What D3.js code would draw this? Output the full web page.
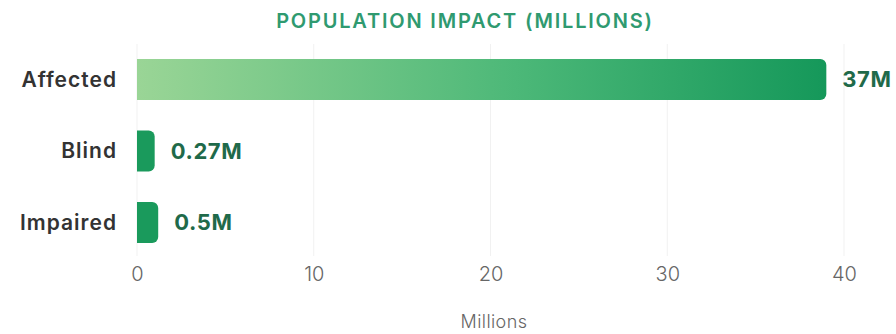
<!DOCTYPE html>
<html>
<head>
<meta charset="utf-8">
<script src="https://cdn.jsdelivr.net/npm/d3@7"></script>
<style>
  body { margin: 0; background: #fff; font-family: Inter, "Noto Sans", sans-serif; }
</style>
</head>
<body>
<div id="chart"></div>
<script>
// data
var categories = ["Affected", "Blind", "Impaired"];
var barValues = [39.0, 1.0, 1.2];          // drawn bar length (millions, as seen on the axis)
var valueLabels = ["37M", "0.27M", "0.5M"];
var xTicks = [0, 10, 20, 30, 40];

var W = 896, H = 334;
var margin = { top: 52, right: 52, bottom: 82, left: 137 };
var width = W - margin.left - margin.right,
    height = H - margin.top - margin.bottom;

var svg = d3.select("#chart").append("svg")
    .attr("width", W).attr("height", H);

var defs = svg.append("defs");
var grad = defs.append("linearGradient").attr("id", "gradAffected")
    .attr("x1", "0%").attr("x2", "100%").attr("y1", "0%").attr("y2", "0%");
grad.append("stop").attr("offset", "0%").attr("stop-color", "#9ad596");
grad.append("stop").attr("offset", "55%").attr("stop-color", "#4cb878");
grad.append("stop").attr("offset", "100%").attr("stop-color", "#15985a");

var g = svg.append("g")
    .attr("transform", "translate(" + margin.left + "," + margin.top + ")");

var x = d3.scaleLinear().domain([0, 40]).range([0, 707]);
var y = d3.scaleBand().domain(categories).range([7, 191]).paddingInner(0.427).paddingOuter(0);

// title
svg.append("text")
    .attr("x", 465).attr("y", 28)
    .attr("text-anchor", "middle")
    .style("font-size", "20px").style("font-weight", "600")
    .style("letter-spacing", "1.8px")
    .style("fill", "#2f9a70")
    .text("POPULATION IMPACT (MILLIONS)");

// gridlines
g.append("g")
    .selectAll("line").data(xTicks).enter().append("line")
    .attr("x1", function (d) { return x(d); }).attr("x2", function (d) { return x(d); })
    .attr("y1", -8).attr("y2", height + 4)
    .attr("stroke", "#f1f1f1").attr("stroke-width", 1);

// bars with rounded right end
function barPath(w, h, r) {
    r = Math.min(r, w / 2, h / 2);
    return "M0,0H" + (w - r) + "A" + r + "," + r + " 0 0 1 " + w + "," + r +
        "V" + (h - r) + "A" + r + "," + r + " 0 0 1 " + (w - r) + "," + h + "H0Z";
}

var rows = g.selectAll(".row").data(categories).enter().append("g")
    .attr("transform", function (d) { return "translate(0," + y(d) + ")"; });

rows.append("path")
    .attr("d", function (d, i) { return barPath(x(barValues[i]), y.bandwidth(), 6); })
    .attr("fill", function (d, i) { return i === 0 ? "url(#gradAffected)" : "#1a9a5c"; });

rows.append("text")
    .attr("x", -20).attr("y", y.bandwidth() / 2)
    .attr("dy", "0.35em").attr("text-anchor", "end")
    .style("font-size", "21px").style("font-weight", "600").style("fill", "#333")
    .style("letter-spacing", "1px")
    .text(function (d) { return d; });

rows.append("text")
    .attr("x", function (d, i) { return x(barValues[i]) + 16; })
    .attr("y", y.bandwidth() / 2)
    .attr("dy", "0.35em")
    .style("font-size", "22px").style("font-weight", "700").style("fill", "#1f6a4a")
    .style("letter-spacing", "0.6px")
    .text(function (d, i) { return valueLabels[i]; });

// x axis
var axis = g.append("g")
    .attr("transform", "translate(0," + height + ")")
    .call(d3.axisBottom(x).tickValues(xTicks).tickSize(0).tickPadding(15));
axis.select(".domain").remove();
axis.selectAll("text")
    .style("font-family", "Inter, sans-serif")
    .style("font-size", "20px").style("font-weight", "300").style("fill", "#666");

svg.append("text")
    .attr("x", 494).attr("y", 328)
    .attr("text-anchor", "middle")
    .style("font-size", "18px").style("font-weight", "300").style("fill", "#666")
    .style("letter-spacing", "0.4px")
    .text("Millions");
</script>
</body>
</html>
